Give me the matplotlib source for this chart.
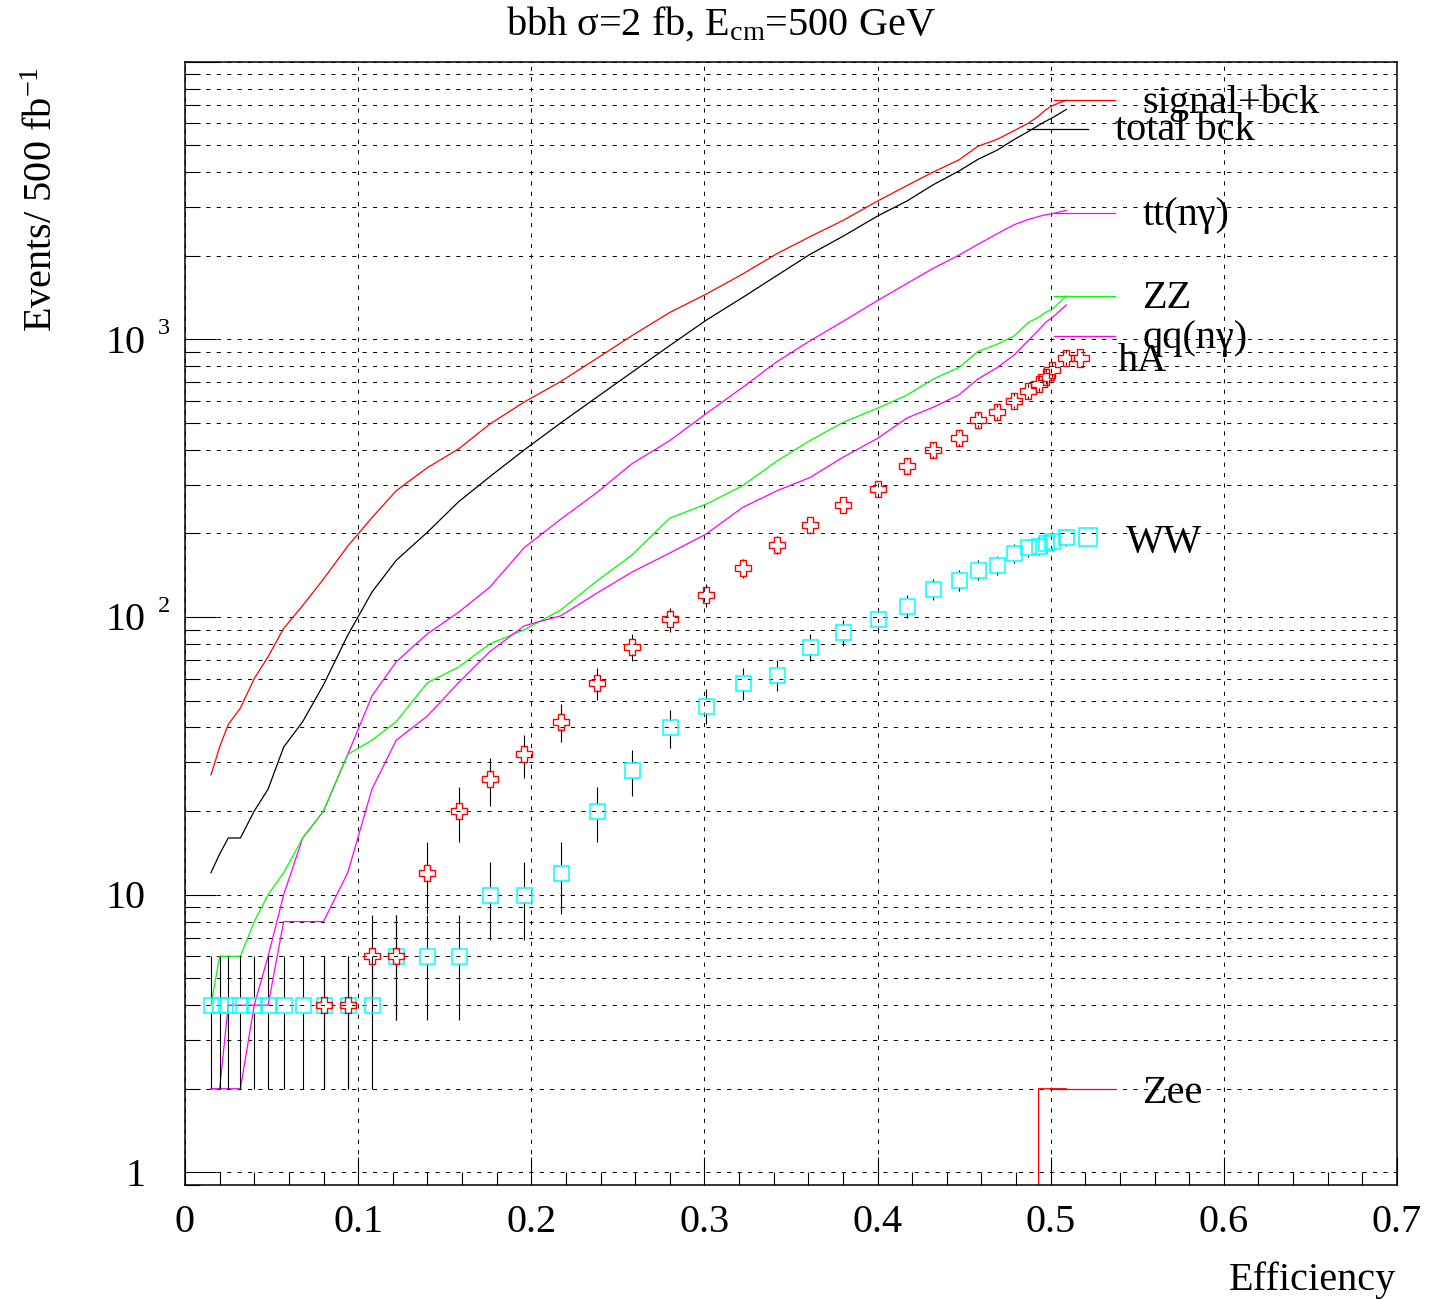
import numpy as np
import matplotlib.pyplot as plt
from matplotlib import transforms
from matplotlib.ticker import FixedLocator, MultipleLocator, LogLocator, NullFormatter

plt.rcParams['font.family'] = 'Liberation Serif'
plt.rcParams['mathtext.fontset'] = 'custom'
plt.rcParams['mathtext.rm'] = 'Liberation Serif'
plt.rcParams['mathtext.it'] = 'Liberation Serif:italic'
plt.rcParams['lines.scale_dashes'] = False

# efficiency points of the cut scan, shared by every curve
eff = [0.015, 0.020, 0.025, 0.032, 0.040, 0.048, 0.057, 0.068, 0.080, 0.094,
       0.108, 0.122, 0.140, 0.158, 0.176, 0.196, 0.217, 0.238, 0.258, 0.280,
       0.301, 0.322, 0.342, 0.361, 0.380, 0.400, 0.417, 0.432, 0.447, 0.458,
       0.469, 0.479, 0.487, 0.493, 0.497, 0.501, 0.509]

sig_bck = [27, 34, 41, 47, 60, 72, 91, 110, 137, 180,
           228, 285, 345, 403, 495, 595, 705, 855, 1030, 1250,
           1455, 1718, 2037, 2344, 2680, 3148, 3580, 4000, 4430, 4960,
           5250, 5650, 6000, 6370, 6700, 6950, 7260]
tot_bck = [12, 14, 16, 16, 20, 24, 34, 42, 57, 86,
           123, 160, 202, 260, 320, 400, 500, 620, 760, 950,
           1172, 1414, 1700, 2024, 2350, 2781, 3150, 3600, 4040, 4450,
           4800, 5250, 5600, 5900, 6100, 6280, 6730]
tt_ng = [2, 2, 2, 2, 4, 6, 10, 16, 20, 32,
         52, 69, 87, 104, 128, 178, 225, 281, 356, 432,
         540, 671, 832, 988, 1160, 1380, 1590, 1800, 2010, 2200,
         2400, 2590, 2700, 2770, 2810, 2836, 2916]
zz = [4, 6, 6, 6, 8, 10, 12, 16, 20, 32,
      36, 42, 58, 66, 80, 90, 106, 135, 167, 227,
      255, 297, 365, 432, 502, 565, 630, 719, 792, 904,
      960, 1030, 1150, 1200, 1250, 1284, 1433]
qq_ng = [2, 2, 4, 4, 4, 4, 8, 8, 8, 12,
         24, 36, 44, 58, 75, 93, 101, 122, 145, 170,
         199, 248, 285, 318, 376, 440, 521, 569, 631, 720,
         790, 880, 990, 1080, 1150, 1200, 1330]
zee = [0, 0, 0, 0, 0, 0, 0, 0, 0, 0,
       0, 0, 0, 0, 0, 0, 0, 0, 0, 0,
       0, 0, 0, 0, 0, 0, 0, 0, 0, 0,
       0, 0, 0, 2, 2, 2, 2]

ww = [4, 4, 4, 4, 4, 4, 4, 4, 4, 4,
      4, 6, 6, 6, 10, 10, 12, 20, 28, 40,
      48, 58, 62, 78, 88, 98, 110, 126, 136, 148,
      154, 170, 178, 180, 184, 188, 194]
ha_eff = eff[8:]
ha = [4, 4, 6, 6, 12, 20, 26, 32, 42, 58,
      78, 98, 120, 150, 182, 215, 254, 289, 349, 399,
      441, 513, 548, 601, 649, 693, 733, 777, 860]

xtick_vals = [0, 0.1, 0.2, 0.3, 0.4, 0.5, 0.6, 0.7]
xtick_text = ['0', '0.1', '0.2', '0.3', '0.4', '0.5', '0.6', '0.7']
ytick_vals = [1, 10, 100, 1000]
ytick_base = ['1', '10', '10', '10']
ytick_exp = ['', '', '2', '3']

# curve names written at the right-hand end of the curves
label_text = ['signal+bck', 'total bck', 'tt(nγ)', 'ZZ', 'qq(nγ)', 'Zee']
label_color = ['#ff0000', '#000000', '#ff00ff', '#00ff00', '#ff00ff', '#ff0000']
label_line_x0 = [0.502, 0.4865, 0.502, 0.502, 0.502, 0.502]
label_line_x1 = [0.537, 0.5215, 0.537, 0.537, 0.537, 0.537]
label_line_y = [7260, 5730, 2840, 1433, 1029, 2]
label_text_x = [0.553, 0.537, 0.553, 0.553, 0.553, 0.553]
label_text_y = [6546, 5212, 2582, 1301, 934, 1.78]

W, H = 1441, 1299
fig = plt.figure(figsize=(W / 100, H / 100), dpi=100)
ax = fig.add_axes([185 / W, 114 / H, 1212 / W, 1123.3 / H])
ax.set_yscale('log', nonpositive='clip')
ax.set_xlim(0, 0.7)
ax.set_ylim(0.9, 1.0e4)

for s in ax.spines.values():
    s.set_linewidth(1.1)

ax.xaxis.set_major_locator(FixedLocator(xtick_vals))
ax.set_xticklabels(xtick_text)
ax.xaxis.set_minor_locator(MultipleLocator(0.02))
ax.yaxis.set_major_locator(LogLocator(base=10, numticks=10))
ax.yaxis.set_minor_locator(LogLocator(base=10, subs=np.arange(2, 10), numticks=20))
ax.yaxis.set_minor_formatter(NullFormatter())
ax.tick_params(axis='x', which='major', direction='in', length=20, width=0.8,
               top=False, labelsize=29, pad=14)
ax.tick_params(axis='x', which='minor', direction='in', length=9.5, width=0.8, top=False)
ax.tick_params(axis='y', which='major', direction='in', length=22, width=0.8,
               right=False, labelleft=False)
ax.tick_params(axis='y', which='minor', direction='in', length=11, width=0.8, right=False)

grid_style = dict(color='black', linewidth=0.7, linestyle=(0, (3, 4.5)))
ax.xaxis.grid(True, which='major', **grid_style)
ax.yaxis.grid(True, which='both', **grid_style)
ax.set_axisbelow(True)

# y tick labels in the "10 ^n" form
ytrans = transforms.blended_transform_factory(ax.transAxes, ax.transData)
for v, base, ex in zip(ytick_vals, ytick_base, ytick_exp):
    t = transforms.offset_copy(ytrans, fig, y=-9.7, units='points')
    ax.text(-0.0325, v, base, transform=t, ha='right', va='baseline', fontsize=29,
            clip_on=False)
    if ex:
        t2 = transforms.offset_copy(ytrans, fig, y=3.6, units='points')
        ax.text(-0.0223, v, ex, transform=t2, ha='left', va='baseline', fontsize=17.5,
                clip_on=False)

lw = 0.9
ax.plot(eff, sig_bck, color='#ff0000', lw=lw)
ax.plot(eff, tot_bck, color='black', lw=lw)
ax.plot(eff, tt_ng, color='#ff00ff', lw=lw)
ax.plot(eff, zz, color='#00ff00', lw=lw)
ax.plot(eff, qq_ng, color='#ff00ff', lw=lw)
ax.plot(eff, zee, color='#ff0000', lw=lw)


def error_bars(x, y, gap_px):
    # sqrt(N) bars, left open where the marker sits
    inv = ax.transData.inverted()
    for xi, yi in zip(x, y):
        err = np.sqrt(yi)
        px, py = ax.transData.transform((xi, yi))
        lo = inv.transform((px, py - gap_px))[1]
        hi = inv.transform((px, py + gap_px))[1]
        ax.vlines([xi, xi], [yi - err, hi], [lo, yi + err], color='black', lw=0.8)


error_bars(eff, ww, 7.5)
error_bars(ha_eff, ha, 7.5)

ax.plot(eff, ww, ls='none', marker='s', ms=10.8, mfc='none', mec='#00ffff', mew=1.1)
ax.plot(ha_eff, ha, ls='none', marker='P', ms=12, mfc='none', mec='#ff0000', mew=1.0)

for txt, c, x0, x1, ly, tx, ty in zip(label_text, label_color, label_line_x0,
                                      label_line_x1, label_line_y, label_text_x,
                                      label_text_y):
    ax.plot([x0, x1], [ly, ly], color=c, lw=lw)
    ax.text(tx, ty, txt, fontsize=29, ha='left', va='baseline')

# keys for the two marker series, placed just past their last point
ax.plot(ha_eff[-1] + 0.008, ha[-1], ls='none', marker='P', ms=13.5, mfc='none',
        mec='#ff0000', mew=1.0)
ax.text(0.5386, 771, 'hA', fontsize=29, ha='left', va='baseline')
ax.plot(eff[-1] + 0.0125, ww[-1], ls='none', marker='s', ms=13.5, mfc='none',
        mec='#00ffff', mew=1.1)
ax.text(0.5434, 172, 'WW', fontsize=29, ha='left', va='baseline')

fig.text(0.5, 1 - 34.3 / H, 'bbh σ=2 fb, E$_{\\mathrm{cm}}$=500 GeV', fontsize=29,
         ha='center', va='baseline')
fig.text(1396 / W, 1 - 1290 / H, 'Efficiency', fontsize=29, ha='right', va='baseline')
fig.text(51.7 / W, 1 - 66.7 / H, 'Events/ 500 fb$^{-1}$', fontsize=29, rotation=90,
         rotation_mode='anchor', ha='right', va='baseline')

fig.savefig('out.png', dpi=100)
